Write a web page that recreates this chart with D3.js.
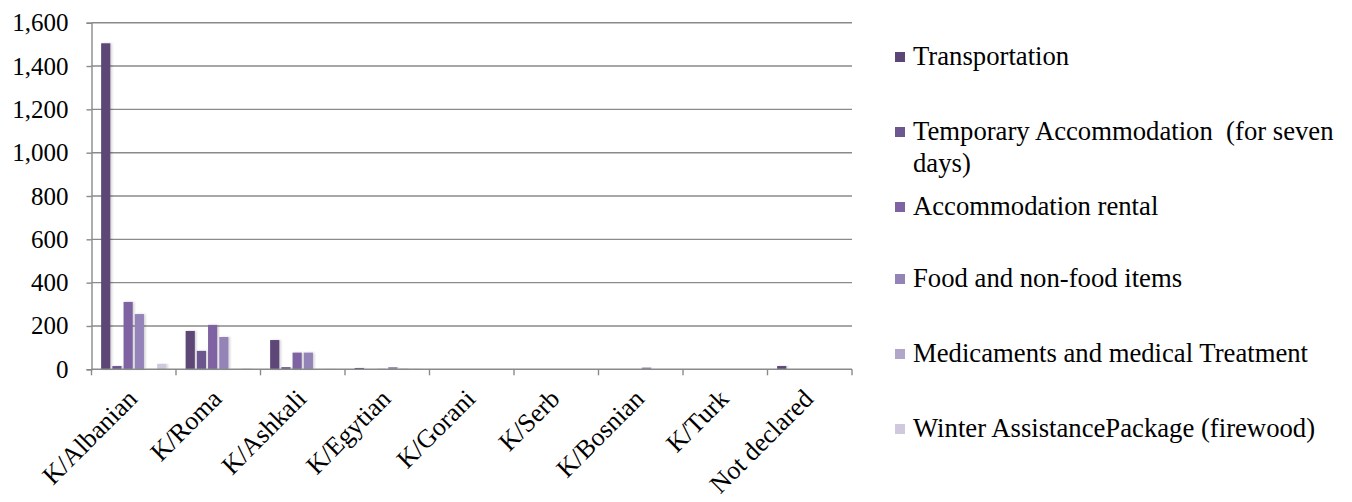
<!DOCTYPE html>
<html>
<head>
<meta charset="utf-8">
<script src="https://cdn.jsdelivr.net/npm/d3@7"></script>
<style>
  html, body { margin: 0; padding: 0; background: #ffffff; }
  svg { display: block; }
</style>
</head>
<body>
<svg id="chart" width="1352" height="502"></svg>
<script>
// Assistance delivered, by community and type of assistance
const categories = ["K/Albanian", "K/Roma", "K/Ashkali", "K/Egytian", "K/Gorani", "K/Serb", "K/Bosnian", "K/Turk", "Not declared"];
const seriesNames = [
  "Transportation",
  "Temporary Accommodation  (for seven days)",
  "Accommodation rental",
  "Food and non-food items",
  "Medicaments and medical Treatment",
  "Winter AssistancePackage (firewood)"
];
const transportation   = [1505, 177, 135, 6, 1, 1, 1, 0, 15];
const tempAccommodation = [15, 85, 10, 1, 1, 0, 0, 0, 1];
const accommodationRental = [311, 205, 77, 2, 1, 1, 1, 0, 0];
const foodItems        = [255, 149, 77, 10, 1, 1, 8, 0, 0];
const medicaments      = [1, 1, 1, 3, 1, 1, 1, 0, 0];
const winterPackage    = [25, 3, 2, 2, 1, 0, 0, 0, 0];
const seriesValues = [transportation, tempAccommodation, accommodationRental, foodItems, medicaments, winterPackage];
const yTicks = [0, 200, 400, 600, 800, 1000, 1200, 1400, 1600];
const colors = ["#5b4677", "#6c5790", "#7e62a2", "#9483b6", "#b1a6c9", "#d0c9de"];

const FONT = "'Liberation Serif', 'Times New Roman', 'DejaVu Serif', serif";

const svg = d3.select("#chart");
const plotLeft = 91.5, plotRight = 852, plotTop = 22.7, plotBottom = 369.3;

const y = d3.scaleLinear().domain([0, 1600]).range([plotBottom, plotTop]);
const x0 = d3.scaleBand().domain(categories).range([plotLeft, plotRight]).padding(0);
const x1 = d3.scaleBand().domain(d3.range(seriesNames.length))
  .range([0, x0.bandwidth()]).paddingInner(0.18).paddingOuter(0.86);

// soft shadow behind the columns
const defs = svg.append("defs");
const f = defs.append("filter").attr("id", "shadow")
  .attr("x", "-30%").attr("y", "-5%").attr("width", "160%").attr("height", "110%");
f.append("feDropShadow").attr("dx", 1.5).attr("dy", 0).attr("stdDeviation", 1.2)
  .attr("flood-color", "#000").attr("flood-opacity", 0.18);

// horizontal gridlines
svg.append("g").selectAll("line").data(yTicks.filter(d => d > 0)).join("line")
  .attr("x1", plotLeft).attr("x2", plotRight)
  .attr("y1", d => y(d)).attr("y2", d => y(d))
  .attr("stroke", "#8a8a8a").attr("stroke-width", 1.4);

// y axis
const yAxis = d3.axisLeft(y).tickValues(yTicks).tickSize(5).tickPadding(18)
  .tickFormat(d3.format(","));
const gy = svg.append("g").attr("transform", `translate(${plotLeft},0)`).call(yAxis)
  .attr("font-family", null).attr("font-size", null);
gy.select(".domain").attr("stroke", "#8a8a8a").attr("stroke-width", 1.4);
gy.selectAll(".tick line").attr("stroke", "#8a8a8a").attr("stroke-width", 1.4);
gy.selectAll(".tick text")
  .style("font-family", FONT).style("font-size", "25px").attr("fill", "#000");

// bars
const groups = svg.append("g").selectAll("g").data(categories).join("g")
  .attr("transform", d => `translate(${x0(d)},0)`);
groups.selectAll("rect")
  .data((c, ci) => seriesValues.map((vals, si) => ({ si, v: vals[ci] })))
  .join("rect")
  .attr("x", d => x1(d.si))
  .attr("width", x1.bandwidth())
  .attr("y", d => y(d.v))
  .attr("height", d => plotBottom - y(d.v))
  .attr("fill", d => colors[d.si])
  .attr("filter", "url(#shadow)");

// x axis with ticks at category boundaries
const gx = svg.append("g");
gx.append("line").attr("x1", plotLeft).attr("x2", plotRight).attr("y1", plotBottom).attr("y2", plotBottom)
  .attr("stroke", "#8a8a8a").attr("stroke-width", 1.4);
const bounds = categories.map(c => x0(c)).concat([plotRight]);
gx.selectAll("line.tk").data(bounds).join("line").attr("class", "tk")
  .attr("x1", d => d).attr("x2", d => d).attr("y1", plotBottom).attr("y2", plotBottom + 6)
  .attr("stroke", "#8a8a8a").attr("stroke-width", 1.4);
gx.selectAll("text").data(categories).join("text")
  .attr("transform", d => `translate(${x0(d) + x0.bandwidth() / 2 + 5},${plotBottom + 31}) rotate(-45)`)
  .attr("text-anchor", "end")
  .style("font-family", FONT).style("font-size", "26px").attr("fill", "#000")
  .text(d => d);

// legend
const legendRows = [
  { lines: ["Transportation"], y: 65 },
  { lines: ["Temporary Accommodation  (for seven", "days)"], y: 140 },
  { lines: ["Accommodation rental"], y: 215 },
  { lines: ["Food and non-food items"], y: 287 },
  { lines: ["Medicaments and medical Treatment"], y: 362 },
  { lines: ["Winter AssistancePackage (firewood)"], y: 437 }
];
const lg = svg.append("g");
legendRows.forEach((row, i) => {
  lg.append("rect").attr("x", 895).attr("y", row.y - 13).attr("width", 10).attr("height", 10)
    .attr("fill", colors[i]);
  const t = lg.append("text").attr("x", 913).attr("y", row.y)
    .style("font-family", FONT).style("font-size", "26.7px").attr("fill", "#000")
    .style("white-space", "pre");
  row.lines.forEach((ln, k) => {
    t.append("tspan").attr("x", 913).attr("dy", k === 0 ? 0 : 32).text(ln);
  });
});
</script>
</body>
</html>
